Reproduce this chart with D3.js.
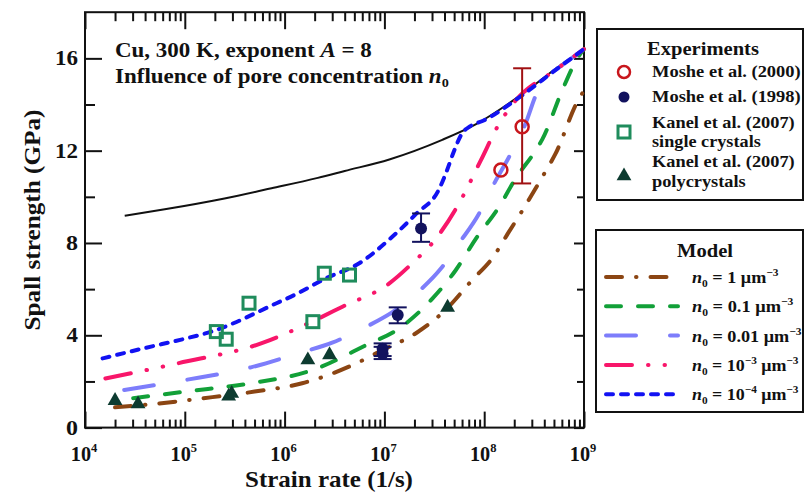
<!DOCTYPE html>
<html>
<head>
<meta charset="utf-8">
<script src="https://cdn.jsdelivr.net/npm/d3@7/dist/d3.min.js"></script>
<style>
  html, body { margin: 0; padding: 0; background: #fff; }
  svg { display: block; }
  text { font-family: "Liberation Serif", "Times New Roman", serif; font-weight: bold; fill: #111; }
</style>
</head>
<body>
<svg id="chart" width="805" height="492"></svg>
<script>
// Spall strength of Cu vs strain rate: model curves for several pore concentrations
// plus experimental points.

// ---- axis ticks ----
const xDecades = [1e4, 1e5, 1e6, 1e7, 1e8, 1e9];
const xExponents = ["4", "5", "6", "7", "8", "9"];
const yMajor = [0, 4, 8, 12, 16];
const yMinor = [2, 6, 10, 14];

// ---- model curves: [strain rate (1/s), spall strength (GPa)] ----
const curveNoPores = [[2.5e4, 9.18], [6.3e4, 9.46], [2.5e5, 9.93], [7.4e5, 10.37], [2.15e6, 10.82],
  [4e6, 11.12], [1.12e7, 11.62], [3.8e7, 12.47], [8.3e7, 13.15], [2.4e8, 14.45], [5.2e8, 15.55], [1e9, 16.4]];
const curveN1 = [[2e4, 0.88], [4.8e4, 1.02], [1.52e5, 1.27], [5e5, 1.56], [1.5e6, 1.92], [4.8e6, 2.71],
  [9.6e6, 3.36], [2.07e7, 4.09], [4.1e7, 5.1], [7.6e7, 6.4], [1.21e8, 7.35], [1.78e8, 8.5], [2.33e8, 9.3],
  [4.1e8, 11.09], [5.2e8, 11.88], [8.57e8, 14.12], [1e9, 14.6]];
const curveN01 = [[3.04e4, 1.27], [1e5, 1.56], [4.6e5, 1.92], [1.92e6, 2.5], [6.6e6, 3.58], [1.41e7, 4.3],
  [3.04e7, 5.6], [5.2e7, 6.83], [8.3e7, 8.2], [1.41e8, 9.57], [2.07e8, 10.8], [3.3e8, 12.03],
  [3.83e8, 12.5], [6.07e8, 14.63], [8.57e8, 16.0], [1e9, 16.4]];
const curveN001 = [[2.47e4, 1.63], [1e5, 2.06], [4.6e5, 2.61], [1.45e6, 3.25], [3e6, 3.68], [6.1e6, 4.3],
  [1.3e7, 5.1], [2.1e7, 5.82], [3.7e7, 6.9], [5.6e7, 7.99], [8.9e7, 9.28], [1.26e8, 10.58],
  [1.78e8, 11.74], [2.6e8, 13.18], [3.3e8, 14.41], [4.2e8, 15.2], [5.2e8, 15.5], [1e9, 16.4]];
const curveN1e3 = [[1.6e4, 2.13], [8.6e4, 2.79], [6.1e5, 3.68], [1.9e6, 4.6], [3.8e6, 5.24], [1.12e7, 6.25],
  [1.9e7, 7.12], [3.3e7, 8.2], [5.6e7, 9.72], [9.3e7, 11.6], [1.36e8, 13.04], [2e8, 14.1],
  [5.2e8, 15.5], [1e9, 16.4]];
const curveN1e4 = [[1.5e4, 3.0], [4e4, 3.45], [1e5, 3.85], [1.85e5, 4.16], [8.3e5, 5.39], [1.3e6, 5.78],
  [2.6e6, 6.47], [5.6e6, 7.12], [1.2e7, 8.27], [2.1e7, 9.28], [3.5e7, 10.3], [4.2e7, 11.1],
  [5e7, 12.0], [6e7, 12.75], [7.2e7, 13.05], [1e8, 13.32], [2.4e8, 14.4], [5.2e8, 15.5], [1e9, 16.4]];

// ---- experiments ----
// Moshe et al. (2000): [rate, strength, lower, upper]
const moshe2000 = [[1.47e8, 11.16, null, null], [2.4e8, 13.04, 10.58, 15.57]];
// Moshe et al. (1998): [rate, strength, lower, upper]
const moshe1998 = [[2.33e7, 8.63, 8.05, 9.28], [1.36e7, 4.88, 4.52, 5.21], [9.6e6, 3.2, 2.97, 3.5], [9.6e6, 3.42, 3.1, 3.65]];
// Kanel et al. (2007), single crystals
const kanelSingle = [[2.07e5, 4.16], [2.6e5, 3.83], [4.4e5, 5.39], [1.92e6, 4.59], [2.5e6, 6.69], [4.47e6, 6.61]];
// Kanel et al. (2007), polycrystals
const kanelPoly = [[2e4, 1.17], [3.4e4, 1.02], [2.75e5, 1.36], [2.95e5, 1.48], [1.71e6, 2.93], [2.82e6, 3.15], [4.3e7, 5.21]];

const models = [
  { data: curveN1,   color: "#8b4513", dash: "16,14,0.5,14", label: "1", exp: null, len: 87 },
  { data: curveN01,  color: "#12a038", dash: "15,17",  label: "0.1", exp: null, len: 102 },
  { data: curveN001, color: "#7d7dfb", dash: "30,34",  label: "0.01", exp: null, len: 110 },
  { data: curveN1e3, color: "#f8166a", dash: "26,16,0.5,16,0.5,16", label: "10", exp: "\u22123", len: 107 },
  { data: curveN1e4, color: "#1212f2", dash: "7,8",    label: "10", exp: "\u22124", len: 107 }
];

const svg = d3.select("#chart");
const x = d3.scaleLog().domain([1e4, 1e9]).range([85, 584]);
const y = d3.scaleLinear().domain([0, 18]).range([427.6, 12.2]);

// bold serif text placed at (px,py); call fitWidth() after filling it to stretch it to a run length
function stext(px, py, size, anchor, rot) {
  const t = svg.append("text")
    .attr("text-anchor", anchor || "start").style("font-size", size + "px");
  t.node().__base = `translate(${px},${py})` + (rot ? ` rotate(${rot})` : "");
  t.attr("transform", t.node().__base);
  return t;
}
function fitWidth(t, len) {
  const w = t.node().getBBox().width;
  if (w > 0 && len) t.attr("transform", t.node().__base + ` scale(${len / w},1)`);
  return t;
}

// ---- axes (inward ticks on all four sides) ----
const xMinor = [];
for (let d = 1e4; d < 1e9; d *= 10) for (let k = 2; k <= 9; k++) xMinor.push(d * k);

function cleanAxis(g) { g.select(".domain").remove(); g.selectAll("line").attr("stroke", "#111").attr("stroke-width", 2); g.selectAll("text").remove(); }

svg.append("g").attr("transform", "translate(0,427.6)").call(d3.axisBottom(x).tickValues(xMinor).tickSize(-8)).call(cleanAxis);
svg.append("g").attr("transform", "translate(0,427.6)").call(d3.axisBottom(x).tickValues(xDecades).tickSize(-16)).call(cleanAxis);
svg.append("g").attr("transform", "translate(0,12.2)").call(d3.axisTop(x).tickValues(xMinor).tickSize(-9)).call(cleanAxis);
svg.append("g").attr("transform", "translate(0,12.2)").call(d3.axisTop(x).tickValues(xDecades).tickSize(-17)).call(cleanAxis);
svg.append("g").attr("transform", "translate(85,0)").call(d3.axisLeft(y).tickValues(yMinor).tickSize(-10)).call(cleanAxis);
svg.append("g").attr("transform", "translate(85,0)").call(d3.axisLeft(y).tickValues(yMajor).tickSize(-17)).call(cleanAxis);
svg.append("g").attr("transform", "translate(584,0)").call(d3.axisRight(y).tickValues(yMinor).tickSize(-7)).call(cleanAxis);
svg.append("g").attr("transform", "translate(584,0)").call(d3.axisRight(y).tickValues(yMajor).tickSize(-10)).call(cleanAxis);

svg.append("rect").attr("x", 85).attr("y", 12.2).attr("width", 499).attr("height", 415.4)
  .attr("fill", "none").attr("stroke", "#111").attr("stroke-width", 2);

// tick labels
xDecades.forEach((v, i) => {
  const t = stext(x(v) - 1, 461, 21, "middle");
  t.append("tspan").text("10");
  t.append("tspan").attr("dy", -9).style("font-size", "13px").text(xExponents[i]);
  fitWidth(t, 27);
});
yMajor.forEach(v => {
  fitWidth(stext(78, y(v) + 7, 21, "end").text(v), v >= 10 ? 23 : 12);
});

// axis titles
fitWidth(stext(329, 487, 23, "middle").text("Strain rate (1/s)"), 168);
fitWidth(stext(40, 220, 23, "middle", -90).text("Spall strength (GPa)"), 221);

// annotation
const a1 = stext(115, 57, 21, "start");
a1.append("tspan").text("Cu, 300 K, exponent ");
a1.append("tspan").style("font-style", "italic").text("A");
a1.append("tspan").text(" = 8");
fitWidth(a1, 257);
const a2 = stext(115, 83, 21, "start");
a2.append("tspan").text("Influence of pore concentration ");
a2.append("tspan").style("font-style", "italic").text("n");
a2.append("tspan").attr("dy", 4).style("font-size", "13px").text("0");
fitWidth(a2, 334);

// ---- model curves ----
const line = d3.line().x(d => x(d[0])).y(d => y(d[1])).curve(d3.curveMonotoneX);
svg.append("path").datum(curveNoPores).attr("d", line).attr("fill", "none").attr("stroke", "#111").attr("stroke-width", 2);
models.forEach(m => {
  svg.append("path").datum(m.data).attr("d", line).attr("fill", "none").attr("stroke", m.color)
    .attr("stroke-width", 4).attr("stroke-linecap", "round").attr("stroke-dasharray", m.dash);
});

// ---- experimental points ----
const red = "#c8161c", redBar = "#a01012", navy = "#12125e", sqGreen = "#1f8c5c", triGreen = "#0d3b30";

function errorBar(rate, lo, hi, color) {
  const cx = x(rate);
  svg.append("line").attr("x1", cx).attr("x2", cx).attr("y1", y(lo)).attr("y2", y(hi)).attr("stroke", color).attr("stroke-width", 2);
  [lo, hi].forEach(v => svg.append("line").attr("x1", cx - 9).attr("x2", cx + 9).attr("y1", y(v)).attr("y2", y(v))
    .attr("stroke", color).attr("stroke-width", 2));
}

moshe2000.forEach(d => { if (d[2] !== null) errorBar(d[0], d[2], d[3], redBar); });
moshe1998.forEach(d => errorBar(d[0], d[2], d[3], navy));

svg.selectAll(".m2000").data(moshe2000).join("circle").attr("cx", d => x(d[0])).attr("cy", d => y(d[1]))
  .attr("r", 6.5).attr("fill", "none").attr("stroke", red).attr("stroke-width", 2.5);
svg.selectAll(".m1998").data(moshe1998).join("circle").attr("cx", d => x(d[0])).attr("cy", d => y(d[1]))
  .attr("r", 6).attr("fill", navy);
svg.selectAll(".ks").data(kanelSingle).join("rect").attr("x", d => x(d[0]) - 6).attr("y", d => y(d[1]) - 6)
  .attr("width", 12).attr("height", 12).attr("fill", "none").attr("stroke", sqGreen).attr("stroke-width", 3);
const tri = d3.symbol().type(d3.symbolTriangle).size(95);
svg.selectAll(".kp").data(kanelPoly).join("path").attr("d", tri)
  .attr("transform", d => `translate(${x(d[0])},${y(d[1])})`).attr("fill", triGreen);

// ---- legend: experiments ----
svg.append("rect").attr("x", 597).attr("y", 29).attr("width", 206).attr("height", 171)
  .attr("fill", "#fff").attr("stroke", "#111").attr("stroke-width", 2);
fitWidth(stext(703, 55, 19, "middle").text("Experiments"), 112);
const expText = [["Moshe et al. (2000)", 77, 149], ["Moshe et al. (1998)", 102, 149], ["Kanel et al. (2007)", 128, 143],
  ["single crystals", 147, 109], ["Kanel et al. (2007)", 167, 143], ["polycrystals", 187, 94]];
expText.forEach(d => fitWidth(stext(652, d[1], 17.5, "start").text(d[0]), d[2]));
svg.append("circle").attr("cx", 624).attr("cy", 72).attr("r", 6).attr("fill", "none").attr("stroke", red).attr("stroke-width", 2.5);
svg.append("circle").attr("cx", 624).attr("cy", 97).attr("r", 5.5).attr("fill", navy);
svg.append("rect").attr("x", 618).attr("y", 126).attr("width", 12).attr("height", 12).attr("fill", "none").attr("stroke", sqGreen).attr("stroke-width", 3);
svg.append("path").attr("d", tri).attr("transform", "translate(624,176)").attr("fill", triGreen);

// ---- legend: model ----
svg.append("rect").attr("x", 596).attr("y", 230).attr("width", 207).attr("height", 182)
  .attr("fill", "#fff").attr("stroke", "#111").attr("stroke-width", 2);
fitWidth(stext(705, 257, 19, "middle").text("Model"), 56);
models.forEach((m, i) => {
  const ly = 277 + i * 29.3;
  svg.append("line").attr("x1", 606).attr("x2", 678).attr("y1", ly).attr("y2", ly).attr("stroke", m.color)
    .attr("stroke-width", 4).attr("stroke-linecap", "round").attr("stroke-dasharray", m.dash);
  const t = stext(692, ly + 6, 17.5, "start");
  t.append("tspan").style("font-style", "italic").text("n");
  t.append("tspan").attr("dy", 4).style("font-size", "11px").text("0");
  t.append("tspan").attr("dy", -4).text(" = " + m.label);
  if (m.exp) {
    t.append("tspan").attr("dy", -7).style("font-size", "11px").text(m.exp);
    t.append("tspan").attr("dy", 7).text(" \u03bcm");
  } else {
    t.append("tspan").text(" \u03bcm");
  }
  t.append("tspan").attr("dy", -7).style("font-size", "11px").text("\u22123");
  fitWidth(t, m.len);
});
</script>
</body>
</html>
